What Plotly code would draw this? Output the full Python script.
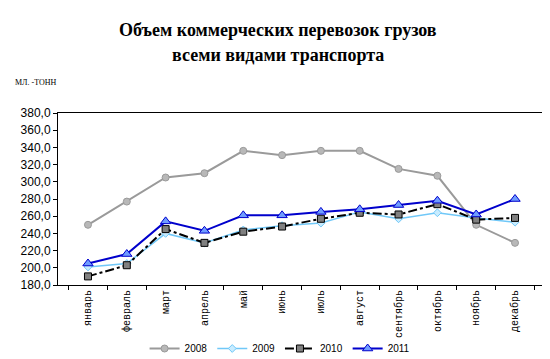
import plotly.graph_objects as go

months = ["январь", "февраль", "март", "апрель", "май", "июнь", "июль",
          "август", "сентябрь", "октябрь", "ноябрь", "декабрь"]
y2008 = [250, 277, 305, 310, 336, 331, 336, 336, 315, 307, 250, 229]
y2009 = [201, 205, 240, 229, 244, 249, 252, 265, 257, 264, 258, 253]
y2010 = [190, 203, 245, 229, 242, 248, 257, 264, 262, 274, 256, 258]
y2011 = [205, 216, 254, 243, 261, 261, 265, 268, 273, 278, 262, 280]
ytick_vals = [180, 200, 220, 240, 260, 280, 300, 320, 340, 360, 380]
ytick_text = ["180,0", "200,0", "220,0", "240,0", "260,0", "280,0", "300,0",
              "320,0", "340,0", "360,0", "380,0"]
title_lines = ["Объем коммерческих перевозок грузов", "всеми видами транспорта"]

fig = go.Figure()
fig.add_trace(go.Scatter(x=months, y=y2008, name="2008", mode="lines+markers",
                         line=dict(color="#9a9a9a", width=2),
                         marker=dict(symbol="circle", size=7, color="#b8b8b8",
                                     line=dict(color="#9a9a9a", width=1))))
fig.add_trace(go.Scatter(x=months, y=y2009, name="2009", mode="lines+markers",
                         line=dict(color="#70c8f8", width=1.5),
                         marker=dict(symbol="diamond", size=6, color="#c8ecff",
                                     line=dict(color="#70c8f8", width=1))))
fig.add_trace(go.Scatter(x=months, y=y2010, name="2010", mode="lines+markers",
                         line=dict(color="#000000", width=2, dash="dashdot"),
                         marker=dict(symbol="square", size=7, color="#808080",
                                     line=dict(color="#000000", width=1))))
fig.add_trace(go.Scatter(x=months, y=y2011, name="2011", mode="lines+markers",
                         line=dict(color="#0000cc", width=2),
                         marker=dict(symbol="triangle-up", size=9, color="#6f9cff",
                                     line=dict(color="#0000cc", width=1))))

title_font = dict(family="Liberation Serif", size=18, color="black")
fig.update_layout(
    width=550, height=359,
    margin=dict(l=50, r=13, t=105, b=82, autoexpand=False),
    paper_bgcolor="white", plot_bgcolor="white",
    showlegend=True,
    legend=dict(orientation="h", x=0.455, xanchor="center",
                y=(277 - 326) / 172, yanchor="top",
                font=dict(family="Liberation Sans", size=10, color="black"),
                bgcolor="rgba(0,0,0,0)"),
    xaxis=dict(type="category", tickangle=-90, ticks="outside", tickson="boundaries",
               ticklen=4, tickcolor="black", showline=True, linecolor="black",
               linewidth=1, mirror=True, showgrid=False, automargin=False,
               tickfont=dict(family="Liberation Mono", size=10, color="black")),
    yaxis=dict(range=[180, 380], tickvals=ytick_vals, ticktext=ytick_text,
               ticks="outside", ticklen=4, tickcolor="black", showline=True,
               linecolor="black", linewidth=1, mirror=True, showgrid=False,
               zeroline=False, automargin=False,
               tickfont=dict(family="Liberation Sans", size=12, color="black")),
    annotations=[
        dict(text="<b>" + title_lines[0] + "</b>", xref="paper", yref="paper",
             x=(270 - 50) / 487, y=(277 - 22) / 172, xanchor="center", yanchor="middle",
             showarrow=False, font=title_font),
        dict(text="<b>" + title_lines[1] + "</b>", xref="paper", yref="paper",
             x=(270 - 50) / 487, y=(277 - 47) / 172, xanchor="center", yanchor="middle",
             showarrow=False, font=title_font),
        dict(text="МЛ. -ТОНН", xref="paper", yref="paper",
             x=-0.092, y=(277 - 75) / 172, xanchor="left", yanchor="middle",
             showarrow=False,
             font=dict(family="Liberation Serif", size=8, color="black")),
    ],
)

fig.write_html("out.html")
